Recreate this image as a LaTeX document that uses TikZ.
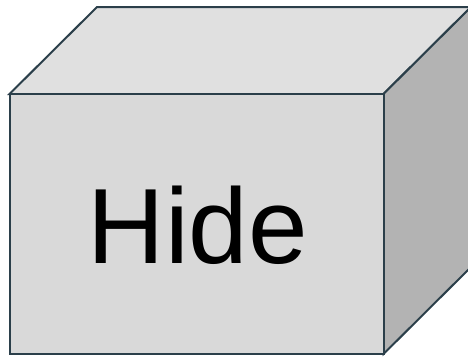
\documentclass[tikz,border=0pt]{standalone}
\usepackage{fontspec}
\setmainfont{Liberation Sans}
\definecolor{edge}{HTML}{2B3F4A}
\definecolor{frontc}{HTML}{D9D9D9}
\definecolor{topc}{HTML}{E0E0E0}
\definecolor{sidec}{HTML}{B3B3B3}
\tikzset{face/.style={draw=edge, line width=2pt, line join=miter}}
\begin{document}
\begin{tikzpicture}[x=1pt,y=-1pt]
\useasboundingbox (0,0) rectangle (468,356);
\begin{scope}
\clip (0,0) rectangle (468,356);
\coordinate (fa) at (9.5,94);
\coordinate (fb) at (383.5,94);
\coordinate (fc) at (383.5,354);
\coordinate (fd) at (9.5,354);
\coordinate (ta) at (97,7);
\coordinate (tb) at (471,7);
\coordinate (tc) at (471,267);
\filldraw[face, fill=topc] (fa) -- (ta) -- (tb) -- (fb) -- cycle;
\filldraw[face, fill=sidec] (fb) -- (tb) -- (tc) -- (fc) -- cycle;
\filldraw[face, fill=frontc] (fa) -- (fb) -- (fc) -- (fd) -- cycle;
\end{scope}
\node[font=\fontsize{107}{120}\selectfont, inner sep=0pt, anchor=base] (label) at (198,263) {Hide};
\end{tikzpicture}
\end{document}
